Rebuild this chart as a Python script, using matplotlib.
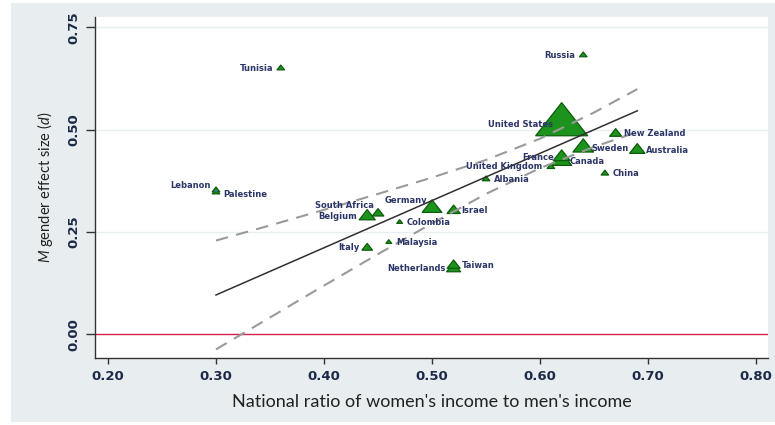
import matplotlib
matplotlib.use("Agg")
import matplotlib.pyplot as plt
from matplotlib.path import Path
from matplotlib.patches import Rectangle
import numpy as np

# ---- data ----
countries = ["Tunisia", "Russia", "Lebanon", "Palestine", "United States", "New Zealand",
             "Sweden", "Australia", "France", "Canada", "United Kingdom", "China", "Albania",
             "South Africa", "Belgium", "Germany", "Israel", "Colombia", "Italy", "Malaysia",
             "Taiwan", "Netherlands"]
income_ratio = [0.36, 0.64, 0.30, 0.30, 0.62, 0.67,
                0.64, 0.69, 0.62, 0.62, 0.61, 0.66, 0.55,
                0.45, 0.44, 0.50, 0.52, 0.47, 0.44, 0.46,
                0.52, 0.52]
effect_size = [0.650, 0.682, 0.352, 0.347, 0.512, 0.490,
               0.456, 0.450, 0.433, 0.423, 0.409, 0.393, 0.379,
               0.295, 0.288, 0.308, 0.302, 0.274, 0.211, 0.225,
               0.168, 0.160]
weights = [1, 1, 1, 1, 48, 2.6,
           7.6, 4.2, 5.1, 7.1, 1, 1, 1,
           2.4, 4.6, 6.9, 3.1, 0.6, 2.0, 0.6,
           3.0, 3.5]

fit_x = [0.30, 0.69]
fit_y = [0.096, 0.546]
ci_x = [0.30, 0.35, 0.40, 0.45, 0.50, 0.55, 0.60, 0.65, 0.69]
ci_upper = [0.229, 0.266, 0.304, 0.343, 0.383, 0.426, 0.478, 0.542, 0.599]
ci_lower = [-0.037, 0.041, 0.119, 0.196, 0.271, 0.343, 0.406, 0.458, 0.494]

x_ticks = [0.20, 0.30, 0.40, 0.50, 0.60, 0.70, 0.80]
y_ticks = [0.00, 0.25, 0.50, 0.75]

# label placement (offset in points, ha)
label_pos = {
    "Tunisia": (-5.5, 0, "right"), "Russia": (-6, 0, "right"),
    "Lebanon": (-4, 3.5, "right"), "Palestine": (5, -1.5, "left"),
    "United States": (-6.5, 0, "right"), "New Zealand": (6, 0, "left"),
    "Sweden": (6, -0.5, "left"), "Australia": (6, 0, "left"),
    "France": (-5.5, 0, "right"), "Canada": (6, 0, "left"),
    "United Kingdom": (-6.5, 0, "right"), "China": (5.5, 0, "left"),
    "Albania": (5.5, 0, "left"), "South Africa": (-3, 5.5, "right"),
    "Belgium": (-7.5, 0, "right"), "Germany": (-3.5, 5.5, "right"),
    "Israel": (5.5, 0, "left"), "Colombia": (5, 0, "left"),
    "Italy": (-5.5, 0, "right"), "Malaysia": (5.5, 0, "left"),
    "Taiwan": (6, 0, "left"), "Netherlands": (-5.5, 0, "right"),
}

plt.rcParams["mathtext.fontset"] = "custom"
plt.rcParams["mathtext.it"] = "Lato:italic"
plt.rcParams["mathtext.rm"] = "Lato"

fig = plt.figure(figsize=(7.75, 4.25), dpi=100, facecolor="white")
fig.patches.append(Rectangle((11 / 775, 3 / 425), 1 - 11 / 775, 1 - 6 / 425,
                             transform=fig.transFigure, facecolor="#e8eef0",
                             edgecolor="none", zorder=-10))
ax = fig.add_axes([95 / 775, 1 - 358 / 425, (768 - 95) / 775, (358 - 16.7) / 425])
ax.set_facecolor("white")

ax.set_xlim(0.188, 0.811)
ax.set_ylim(-0.058, 0.776)

for yv in [0.25, 0.50, 0.75]:
    ax.axhline(yv, color="#e6eef0", lw=1.0, zorder=1)
ax.axhline(0, color="#d4204a", lw=1.0, zorder=2)

# centroid-centred wide triangle
tri = Path([(0, 0.667), (-0.785, -0.333), (0.785, -0.333), (0, 0.667)],
           [Path.MOVETO, Path.LINETO, Path.LINETO, Path.CLOSEPOLY])
base_w_px = 7.5
sizes = [((base_w_px * np.sqrt(w)) / (100 / 72)) ** 2 for w in weights]
order = np.argsort(weights)[::-1]
ax.scatter(np.array(income_ratio)[order], np.array(effect_size)[order],
           s=np.array(sizes)[order], marker=tri, facecolor="#1c931c",
           edgecolor="#0c5c0c", linewidth=0.9, zorder=3)
# Lebanon overlay (blue core)
li = countries.index("Lebanon")
ax.scatter([income_ratio[li]], [effect_size[li] - 0.002], s=sizes[li] * 0.3, marker=tri,
           facecolor="#3a6fb0", edgecolor="none", zorder=4)

ax.plot(fit_x, fit_y, color="#303030", lw=1.1, zorder=5)
ax.plot(ci_x, ci_upper, color="#9a9a9a", lw=1.5, dashes=(6, 4), zorder=5)
ax.plot(ci_x, ci_lower, color="#9a9a9a", lw=1.5, dashes=(6, 4), zorder=5)

for c, xv, yv in zip(countries, income_ratio, effect_size):
    dx, dy, ha = label_pos[c]
    ax.annotate(c, (xv, yv), xytext=(dx, dy), textcoords="offset points",
                ha=ha, va="center", fontsize=6, fontweight="bold", color="#2b3566",
                family="DejaVu Sans", zorder=6)

ax.set_xticks(x_ticks)
ax.set_xticklabels([f"{v:.2f}" for v in x_ticks])
ax.set_yticks(y_ticks)
ax.set_yticklabels([f"{v:.2f}" for v in y_ticks], rotation=90, va="center")
ax.tick_params(axis="x", length=4.5, width=1, color="#333333", pad=4,
               labelsize=9.5, labelcolor="#1c2a48")
ax.tick_params(axis="y", length=6.5, width=1, color="#333333", pad=4,
               labelsize=9.5, labelcolor="#1c2a48")
for lab in ax.get_xticklabels() + ax.get_yticklabels():
    lab.set_family("DejaVu Sans")
    lab.set_fontweight("bold")

for s in ["top", "right"]:
    ax.spines[s].set_visible(False)
for s in ["left", "bottom"]:
    ax.spines[s].set_color("#333333")
    ax.spines[s].set_linewidth(1.0)

ax.set_xlabel("National ratio of women's income to men's income", fontsize=13,
              family="Lato", color="#222222", labelpad=8)
ax.set_ylabel(r"$\mathit{M}$ gender effect size ($\mathit{d}$)", fontsize=10.5,
              family="Lato", color="#222222", labelpad=9)

fig.savefig("out.png", dpi=100, facecolor=fig.get_facecolor())
